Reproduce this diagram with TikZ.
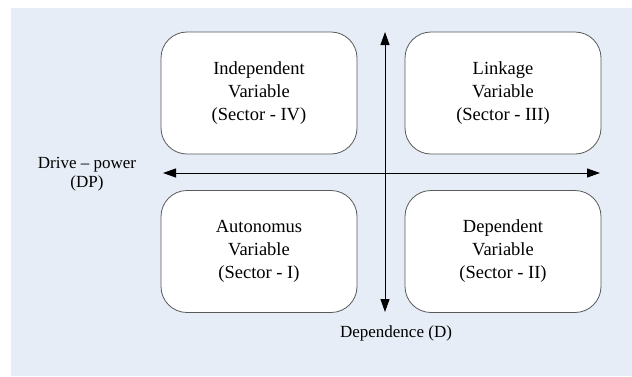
\documentclass[tikz,border=0pt]{standalone}
\usepackage{fontspec}
\setmainfont{Liberation Serif}
\usetikzlibrary{arrows.meta}
\definecolor{panelblue}{HTML}{E6EDF7}
\tikzset{
  sectorbox/.style={draw=black!65, fill=white, rounded corners=26pt, line width=0.8pt,
    minimum width=196pt, minimum height=122pt, align=center,
    font=\fontsize{18.5}{23}\selectfont},
  axislabel/.style={align=center, font=\fontsize{17}{19}\selectfont},
  axis/.style={line width=1pt, {Triangle[length=13pt,width=9pt]}-{Triangle[length=13pt,width=9pt]}}
}
\begin{document}
\begin{tikzpicture}[x=1pt,y=-1pt]
      \useasboundingbox (0, 0) rectangle (632, 376);
      \fill[panelblue] (11, 8) rectangle (632, 376);
      \node[sectorbox] (indep) at (259, 93) {Independent\\Variable\\(Sector - IV)};
      \node[sectorbox] (link) at (503, 93) {Linkage\\Variable\\(Sector - III)};
      \node[sectorbox] (auto) at (259, 251.5) {Autonomus\\Variable\\(Sector - I)};
      \node[sectorbox] (dep) at (503, 251.5) {Dependent\\Variable\\(Sector - II)};
      \coordinate (dtop) at (385, 32);
      \coordinate (dbot) at (385, 312);
      \coordinate (dpleft) at (163, 173);
      \coordinate (dpright) at (600, 173);
      \draw[axis] (dtop) -- (dbot);
      \draw[axis] (dpleft) -- (dpright);
      \node[axislabel] (dplabel) at (87, 174) {Drive -- power\\(DP)};
      \node[axislabel] (dlabel) at (396, 333) {Dependence (D)};
\end{tikzpicture}
\end{document}
